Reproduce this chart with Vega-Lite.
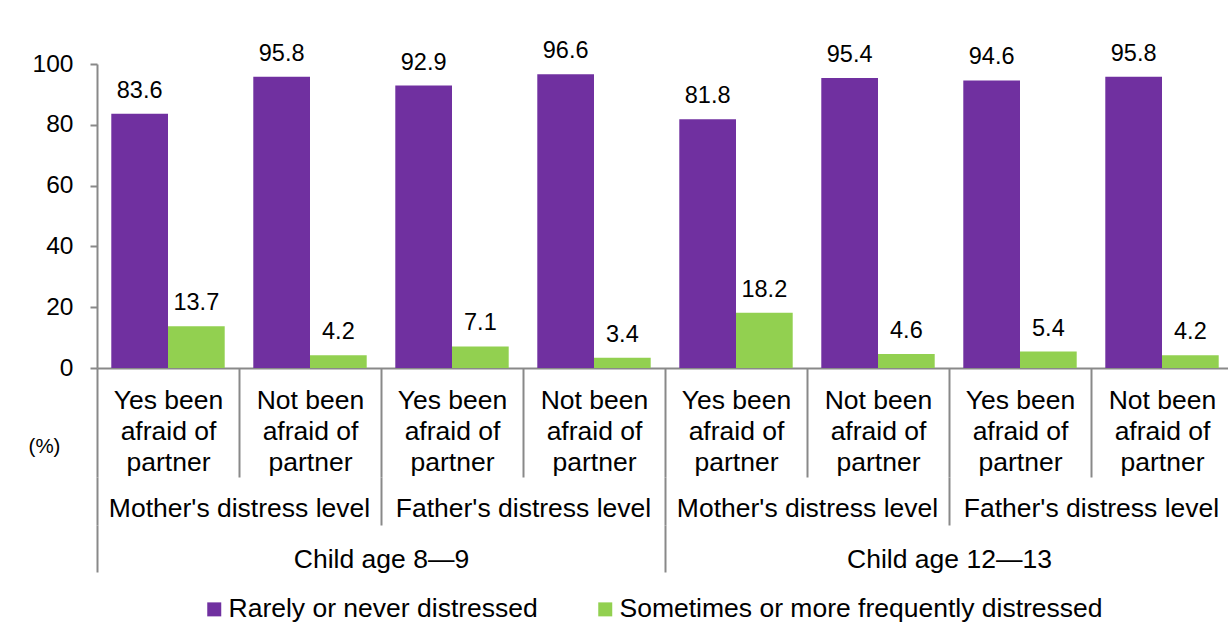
{
  "$schema": "https://vega.github.io/schema/vega-lite/v6.json",
  "autosize": "none",
  "padding": {"left": 97, "top": 64, "right": -5, "bottom": 264},
  "width": 1136,
  "height": 304,
  "background": "white",
  "config": {
    "font": "Liberation Sans",
    "view": {"stroke": null},
    "axis": {
      "grid": false,
      "domainColor": "#898989",
      "domainWidth": 2,
      "tickColor": "#898989",
      "tickWidth": 2,
      "labelColor": "#000000",
      "titleColor": "#000000",
      "labelFont": "Liberation Sans",
      "titleFont": "Liberation Sans",
      "labelLimit": 0
    }
  },
  "datasets": {
    "distress": [
      {"age": "Child age 8\u20149", "pair": "Child age 8\u20149|Mother's distress level", "cell": "Child age 8\u20149|Mother's distress level|Yes been afraid of partner", "series": "Rarely or never distressed", "value": 83.6},
      {"age": "Child age 8\u20149", "pair": "Child age 8\u20149|Mother's distress level", "cell": "Child age 8\u20149|Mother's distress level|Yes been afraid of partner", "series": "Sometimes or more frequently distressed", "value": 13.7},
      {"age": "Child age 8\u20149", "pair": "Child age 8\u20149|Mother's distress level", "cell": "Child age 8\u20149|Mother's distress level|Not been afraid of partner", "series": "Rarely or never distressed", "value": 95.8},
      {"age": "Child age 8\u20149", "pair": "Child age 8\u20149|Mother's distress level", "cell": "Child age 8\u20149|Mother's distress level|Not been afraid of partner", "series": "Sometimes or more frequently distressed", "value": 4.2},
      {"age": "Child age 8\u20149", "pair": "Child age 8\u20149|Father's distress level", "cell": "Child age 8\u20149|Father's distress level|Yes been afraid of partner", "series": "Rarely or never distressed", "value": 92.9},
      {"age": "Child age 8\u20149", "pair": "Child age 8\u20149|Father's distress level", "cell": "Child age 8\u20149|Father's distress level|Yes been afraid of partner", "series": "Sometimes or more frequently distressed", "value": 7.1},
      {"age": "Child age 8\u20149", "pair": "Child age 8\u20149|Father's distress level", "cell": "Child age 8\u20149|Father's distress level|Not been afraid of partner", "series": "Rarely or never distressed", "value": 96.6},
      {"age": "Child age 8\u20149", "pair": "Child age 8\u20149|Father's distress level", "cell": "Child age 8\u20149|Father's distress level|Not been afraid of partner", "series": "Sometimes or more frequently distressed", "value": 3.4},
      {"age": "Child age 12\u201413", "pair": "Child age 12\u201413|Mother's distress level", "cell": "Child age 12\u201413|Mother's distress level|Yes been afraid of partner", "series": "Rarely or never distressed", "value": 81.8},
      {"age": "Child age 12\u201413", "pair": "Child age 12\u201413|Mother's distress level", "cell": "Child age 12\u201413|Mother's distress level|Yes been afraid of partner", "series": "Sometimes or more frequently distressed", "value": 18.2},
      {"age": "Child age 12\u201413", "pair": "Child age 12\u201413|Mother's distress level", "cell": "Child age 12\u201413|Mother's distress level|Not been afraid of partner", "series": "Rarely or never distressed", "value": 95.4},
      {"age": "Child age 12\u201413", "pair": "Child age 12\u201413|Mother's distress level", "cell": "Child age 12\u201413|Mother's distress level|Not been afraid of partner", "series": "Sometimes or more frequently distressed", "value": 4.6},
      {"age": "Child age 12\u201413", "pair": "Child age 12\u201413|Father's distress level", "cell": "Child age 12\u201413|Father's distress level|Yes been afraid of partner", "series": "Rarely or never distressed", "value": 94.6},
      {"age": "Child age 12\u201413", "pair": "Child age 12\u201413|Father's distress level", "cell": "Child age 12\u201413|Father's distress level|Yes been afraid of partner", "series": "Sometimes or more frequently distressed", "value": 5.4},
      {"age": "Child age 12\u201413", "pair": "Child age 12\u201413|Father's distress level", "cell": "Child age 12\u201413|Father's distress level|Not been afraid of partner", "series": "Rarely or never distressed", "value": 95.8},
      {"age": "Child age 12\u201413", "pair": "Child age 12\u201413|Father's distress level", "cell": "Child age 12\u201413|Father's distress level|Not been afraid of partner", "series": "Sometimes or more frequently distressed", "value": 4.2}
    ]
  },
  "data": {"name": "distress"},
  "layer": [
    {
      "encoding": {
        "x": {
          "field": "cell",
          "type": "nominal",
          "sort": null,
          "scale": {"paddingInner": 0, "paddingOuter": 0},
          "axis": {
            "orient": "bottom",
            "title": null,
            "tickBand": "extent",
            "tickSize": 109,
            "labelPadding": -90,
            "labelFontSize": 26.5,
            "labelLineHeight": 31,
            "labelBaseline": "top",
            "labelAngle": 0,
            "labelExpr": "isString(datum.value) ? [join(slice(split(split(datum.value, '|')[2], ' '), 0, 2), ' '), join(slice(split(split(datum.value, '|')[2], ' '), 2, 4), ' '), peek(split(split(datum.value, '|')[2], ' '))] : ''"
          }
        },
        "xOffset": {
          "field": "series",
          "type": "nominal",
          "sort": null,
          "scale": {"paddingInner": 0, "paddingOuter": 0.252}
        },
        "y": {
          "field": "value",
          "type": "quantitative",
          "scale": {"domain": [0, 100], "nice": false},
          "axis": {
            "orient": "left",
            "values": [0, 20, 40, 60, 80, 100],
            "tickSize": 7,
            "labelPadding": 17,
            "labelFontSize": 24.5,
            "title": "(%)",
            "titleAngle": 0,
            "titleAlign": "center",
            "titleBaseline": "middle",
            "titleFontSize": 20.5,
            "titleFontWeight": "normal",
            "titleX": -53,
            "titleY": 382
          }
        }
      },
      "layer": [
        {
          "mark": {"type": "bar"},
          "encoding": {
            "color": {
              "field": "series",
              "type": "nominal",
              "sort": null,
              "scale": {"range": ["#7030A0", "#92D050"]},
              "legend": {
                "orient": "none",
                "direction": "horizontal",
                "legendX": 104,
                "legendY": 532,
                "title": null,
                "padding": 0,
                "symbolType": "square",
                "symbolSize": 196,
                "symbolStrokeWidth": 0,
                "labelFontSize": 26.5,
                "labelColor": "#000000",
                "labelOffset": 1,
                "labelLimit": 0,
                "columnPadding": 54
              }
            }
          }
        },
        {
          "mark": {"type": "text", "baseline": "alphabetic", "dy": -16, "fontSize": 23.5, "color": "#000000"},
          "encoding": {
            "text": {"field": "value", "type": "quantitative", "format": ".1f"}
          }
        }
      ]
    },
    {
      "mark": {"type": "rule", "opacity": 0},
      "encoding": {
        "x": {
          "field": "pair",
          "type": "nominal",
          "sort": null,
          "scale": {"paddingInner": 0, "paddingOuter": 0},
          "axis": {
            "orient": "bottom",
            "offset": 109,
            "title": null,
            "domain": false,
            "tickBand": "extent",
            "tickSize": 48,
            "labelPadding": -30,
            "labelFontSize": 26.5,
            "labelBaseline": "top",
            "labelAngle": 0,
            "labelExpr": "isString(datum.value) ? split(datum.value, '|')[1] : ''"
          }
        }
      }
    },
    {
      "mark": {"type": "rule", "opacity": 0},
      "encoding": {
        "x": {
          "field": "age",
          "type": "nominal",
          "sort": null,
          "scale": {"paddingInner": 0, "paddingOuter": 0},
          "axis": {
            "orient": "bottom",
            "offset": 157,
            "title": null,
            "domain": false,
            "tickBand": "extent",
            "tickSize": 47,
            "labelPadding": -26,
            "labelFontSize": 26.5,
            "labelBaseline": "top",
            "labelAngle": 0,
            "labelExpr": "isString(datum.value) ? datum.value : ''"
          }
        }
      }
    }
  ],
  "resolve": {"scale": {"x": "independent"}, "axis": {"x": "independent"}}
}
